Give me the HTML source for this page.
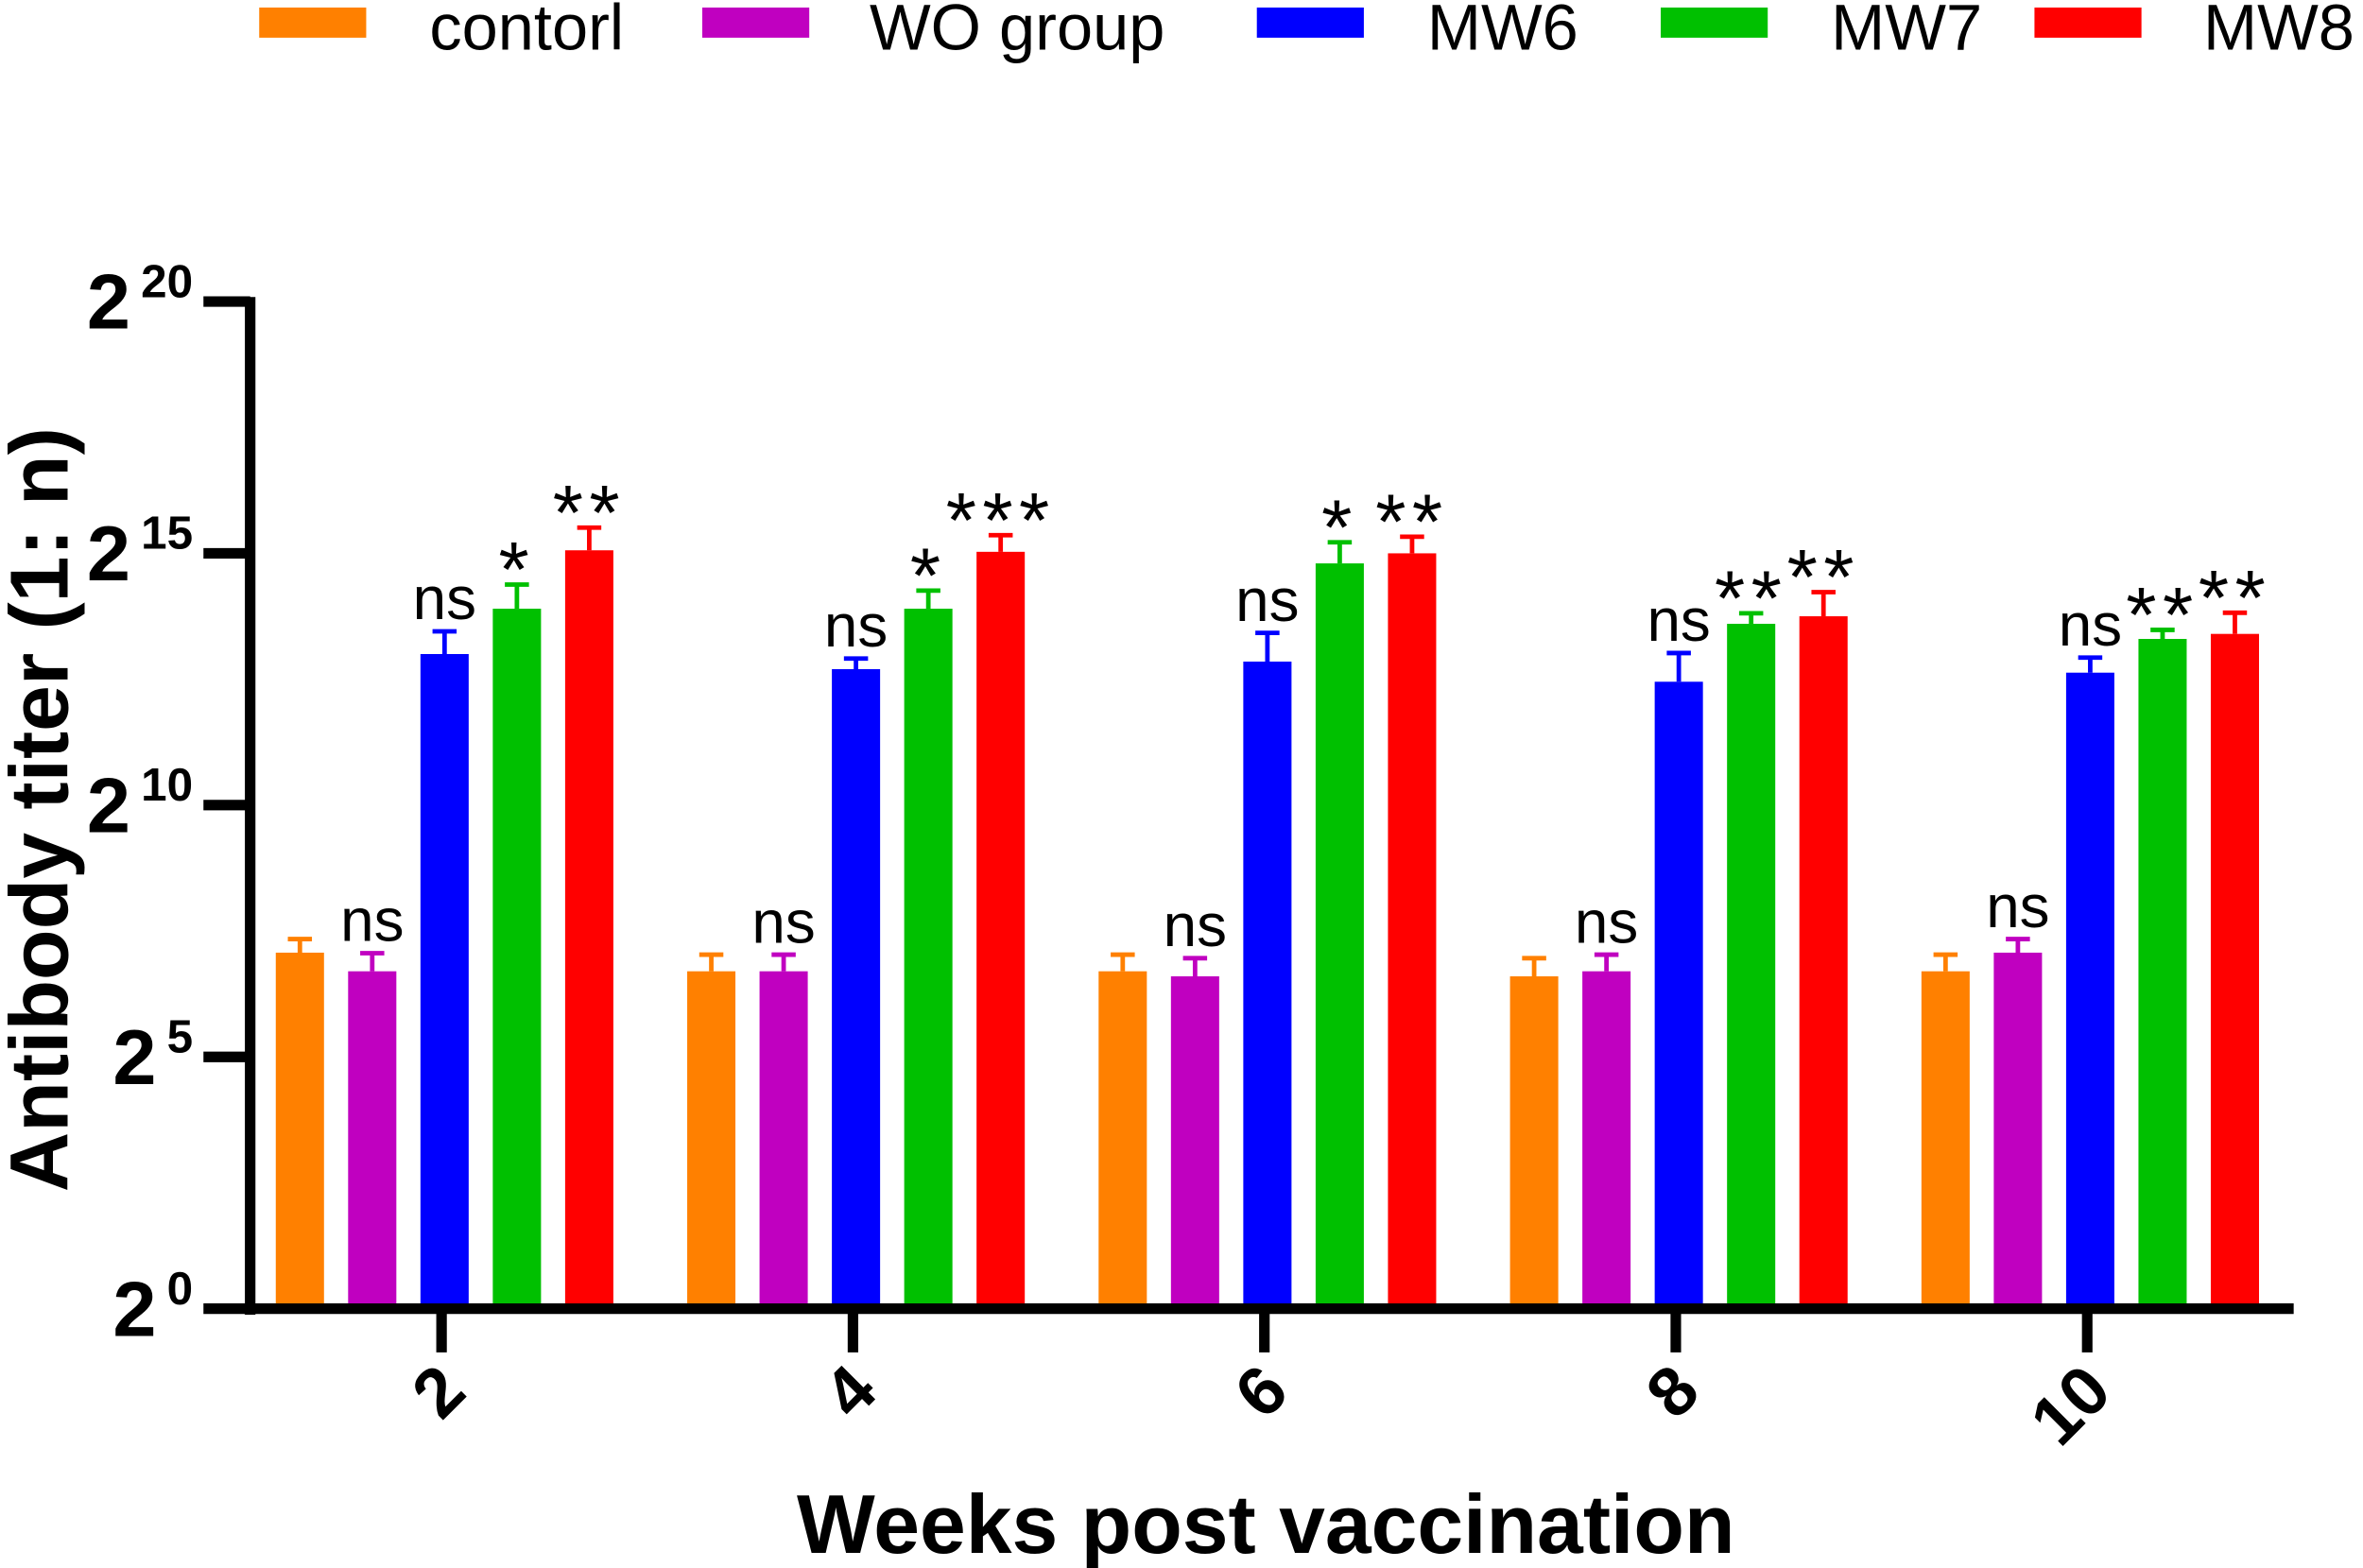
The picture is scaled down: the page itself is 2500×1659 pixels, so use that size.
<!DOCTYPE html>
<html><head><meta charset="utf-8"><style>html,body{margin:0;padding:0;background:#fff}svg{display:block}</style></head>
<body>
<svg width="2500" height="1659" viewBox="0 0 1568 1040" preserveAspectRatio="none" xmlns="http://www.w3.org/2000/svg" font-family="Liberation Sans, Arial, sans-serif">
<g id="legend"></g>
<g id="axes"></g>
<g id="bars"></g>
<text transform="translate(45,537) rotate(-90)" text-anchor="middle" font-size="55" font-weight="bold">Antibody titer (1: n)</text>
<text x="840" y="1030" text-anchor="middle" font-size="55" font-weight="bold">Weeks post vaccination</text>
</svg>
<script>
const categories = ['2','4','6','8','10'];
const seriesNames = ['contorl','WO group','MW6','MW7','MW8'];
const seriesColors = ['#ff8000','#c000c0','#0000ff','#00c000','#ff0000'];
const contorl = [7.07,6.7,6.7,6.6,6.7];
const woGroup = [6.7,6.7,6.6,6.7,7.07];
const mw6 = [13.0,12.7,12.85,12.45,12.63];
const mw7 = [13.9,13.9,14.8,13.6,13.3];
const mw8 = [15.06,15.03,15.0,13.75,13.4];
const errContorl = [0.27,0.33,0.33,0.36,0.33];
const errWo = [0.36,0.33,0.36,0.33,0.27];
const errMw6 = [0.45,0.21,0.57,0.57,0.3];
const errMw7 = [0.48,0.36,0.42,0.21,0.18];
const errMw8 = [0.45,0.33,0.33,0.48,0.42];
const sigWo = ['ns','ns','ns','ns','ns'];
const sigMw6 = ['ns','ns','ns','ns','ns'];
const sigMw7 = ['*','*','*','**','**'];
const sigMw8 = ['**','***','**','**','**'];
const yTicks = [0,5,10,15,20];

const NS='http://www.w3.org/2000/svg';
const series=[contorl,woGroup,mw6,mw7,mw8];
const errs=[errContorl,errWo,errMw6,errMw7,errMw8];
const sigs=[null,sigWo,sigMw6,sigMw7,sigMw8];
const y0=868, y1=200, ymax=20;
function yScale(v){return y0-(v/ymax)*(y0-y1);}
function xCenter(i){return 295+i*273;}
function mk(tag,attrs,parent){const e=document.createElementNS(NS,tag);for(const k in attrs)e.setAttribute(k,attrs[k]);parent.appendChild(e);return e;}

const axes=document.getElementById('axes');
mk('line',{x1:166,y1:197,x2:166,y2:872,stroke:'#000','stroke-width':7},axes);
mk('line',{x1:162,y1:868,x2:1522,y2:868,stroke:'#000','stroke-width':7},axes);
yTicks.forEach(t=>{
  const y=yScale(t);
  const l=mk('line',{x1:135,y1:y,x2:166,y2:y,stroke:'#000','stroke-width':7},axes);
  
  
  const tx=mk('text',{x:128,y:y+18,'text-anchor':'end','font-weight':'bold'},axes);
  
  
  const a=mk('tspan',{'font-size':52},tx);a.textContent='2';
  const b=mk('tspan',{'font-size':31,dy:-21,dx:7},tx);b.textContent=String(t);
});
categories.forEach((c,i)=>{
  const x=xCenter(i)-2;
  const l=mk('line',{x1:x,y1:868,x2:x,y2:897,stroke:'#000','stroke-width':7},axes);
  
  
  const t=mk('text',{transform:`translate(${x+18},${925}) rotate(-45)`,'text-anchor':'end','font-size':46,'font-weight':'bold'},axes);
  
  
  t.textContent=c;
});

const bars=document.getElementById('bars');
series.forEach((vals,s)=>{
  vals.forEach((v,i)=>{
    const cx=xCenter(i)-96+s*48;
    const top=yScale(v), cap=yScale(v+errs[s][i]);
    const r=mk('rect',{x:cx-16,y:top,width:32,height:y0-3.5-top,fill:seriesColors[s]},bars);
    
    
    const e=mk('path',{d:`M${cx},${top} V${cap} M${cx-8},${cap} H${cx+8}`,stroke:seriesColors[s],'stroke-width':3,fill:'none'},bars);
    
    
    if(sigs[s]){
      const lab=sigs[s][i];
      const star=lab.indexOf('*')>=0;
      const t=mk('text',{x:cx,y:star?cap+8:cap-8,'text-anchor':'middle','font-size':star?52:40,'letter-spacing':star?4:0},bars);
      
      
      t.textContent=lab;
    }
  });
});

const legend=document.getElementById('legend');
const lx=[172,466,834,1102,1350], tx=[285,577,947,1215,1462];
seriesNames.forEach((n,s)=>{
  const r=mk('rect',{x:lx[s],y:5,width:71,height:20,fill:seriesColors[s]},legend);
  
  
  const t=mk('text',{x:tx[s],y:33,'font-size':43},legend);
  
  
  t.textContent=n;
});
</script>
</body></html>
